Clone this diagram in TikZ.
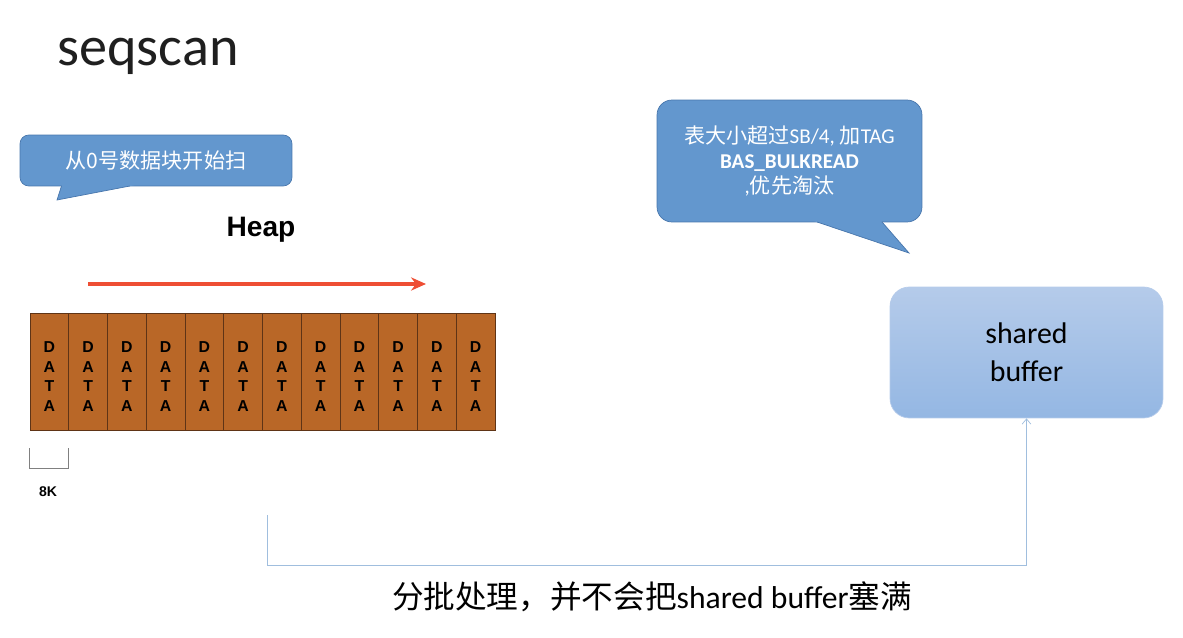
\documentclass[tikz,border=0pt]{standalone}
\usepackage{fontspec}
\setmainfont{Carlito}
\newfontfamily\cjk{Noto Sans CJK SC}
\newfontfamily\arial{Liberation Sans}
\usetikzlibrary{arrows.meta}
\usetikzlibrary{calc}
\definecolor{bubblefill}{RGB}{99,151,206}
\definecolor{bubbleline}{RGB}{72,118,172}
\definecolor{datafill}{RGB}{185,103,39}
\definecolor{dataline}{RGB}{95,52,22}
\definecolor{scanred}{RGB}{238,78,52}
\definecolor{feedline}{RGB}{160,190,222}
\definecolor{sbtop}{RGB}{181,203,234}
\definecolor{sbbottom}{RGB}{148,183,227}
\tikzset{
  datablk/.style={draw=dataline,fill=datafill,minimum width=0.775cm,minimum height=2.34cm,inner sep=0pt},
  datatext/.style={inner sep=0pt,align=center,font=\arial\bfseries\fontsize{9}{11.1}\selectfont},
  bubble/.style={draw=bubbleline,fill=bubblefill,text=white,inner sep=0pt,align=center},
  bubbletail/.style={fill=bubblefill},
}

\begin{document}
\begin{tikzpicture}[x=0.02cm,y=-0.02cm]
	\useasboundingbox (0,0) rectangle (1183,638);

	\node[text=black!88,font=\fontsize{32}{38}\selectfont] (title) at (148,56) {seqscan};

	% first callout
	\node[bubble,rounded corners=5pt,minimum width=5.44cm,minimum height=1.02cm,
	  font=\cjk\fontsize{12}{14}\selectfont] (start) at (156,160.5) {从0号数据块开始扫};
	\fill[bubbletail] (62.5,183) -- (57,200) -- (145.6,183) -- cycle;
	\draw[bubbleline] (61.5,186) -- (57,200) -- (130,186);

	\node[font=\arial\bfseries\fontsize{16}{19}\selectfont] (heap) at (261,230) {Heap};

	\coordinate (scanA) at (88,284);
	\coordinate (scanB) at (426,284);
	\draw[scanred,line width=2pt,-{Stealth[length=8.5pt,width=7.5pt]}] (scanA) -- (scanB);

	\foreach \i in {0,...,11} {
		\node[datablk] (d\i) at ({49.4+38.75*\i},371.5) {};
		\node[datatext] (t\i) at ([yshift=-3pt]d\i.center) {D\\A\\T\\A};
	}

	\draw[gray] (29,448) -- (29,468) -- (68,468) -- (68,448);
	\node[font=\arial\bfseries\fontsize{8}{10}\selectfont] (size) at (48,492) {8K};

	% second callout
	\node[bubble,rounded corners=8.5pt,minimum width=5.3cm,minimum height=2.44cm,
	  font=\fontsize{12}{14.5}\selectfont] (tag) at (789.5,161)
	  {{\cjk 表大小超过}SB/4, {\cjk 加}TAG\\\textbf{BAS\_BULKREAD}\\,{\cjk 优先淘汰}};
	\fill[bubbletail] (805,218) -- (909,253) -- (878.5,218) -- cycle;
	\draw[bubbleline] (817,222) -- (909,253) -- (882,222);

	\node[rounded corners=11pt,top color=sbtop,bottom color=sbbottom,draw=sbtop,
	  minimum width=5.46cm,minimum height=2.62cm,align=center,
	  font=\fontsize{17}{21.5}\selectfont] (sb) at (1026.5,352.5) {shared\\buffer};

	\coordinate (batch) at (267,515);
	\draw[feedline,-{Straight Barb[length=3pt,width=5pt]}] (batch) -- ++(0,50) -| (sb.south);

	\node[font=\fontsize{18}{22}\selectfont] (note) at (652,597)
	  {{\cjk 分批处理，并不会把}shared buffer{\cjk 塞满}};
\end{tikzpicture}
\end{document}
